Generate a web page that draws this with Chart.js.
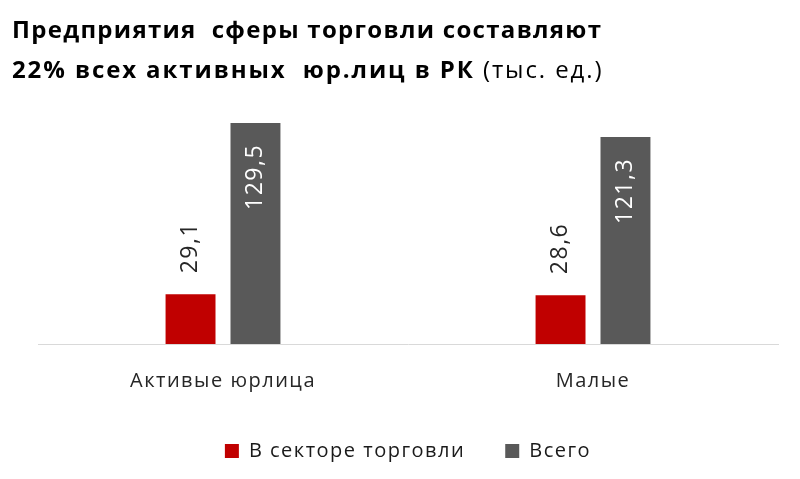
<!DOCTYPE html>
<html>
<head>
<meta charset="utf-8">
<script src="https://cdn.jsdelivr.net/npm/chart.js@4"></script>
<style>
  html, body { margin: 0; padding: 0; background: #fff; }
  #wrap { position: relative; width: 800px; height: 479px; }
  #title {
    position: absolute; left: 12px; top: 9px;
    font-family: "Open Sans", sans-serif; font-size: 24px; font-weight: 700;
    line-height: 40px; color: #000; letter-spacing: 1.3px; white-space: nowrap;
  }
  #title .l2 { letter-spacing: 1.9px; }
  #title span span { font-weight: 400; }
  canvas { position: absolute; left: 0; top: 0; }
</style>
</head>
<body>
<div id="wrap">
  <canvas id="chart" width="800" height="479"></canvas>
  <div id="title">Предприятия&nbsp; сферы торговли составляют<br><span class="l2">22% всех активных&nbsp; юр.лиц в РК <span>(тыс. ед.)</span></span></div>
</div>
<script>
const categories = ["Активые юрлица", "Малые"];
const tradeSector = [29.1, 28.6];
const total = [129.5, 121.3];
const seriesNames = ["В секторе торговли", "Всего"];

const FONT = '"Open Sans", sans-serif';
const SPACING = "1.5px";

// the reference text is set quite wide, so spread the letters a bit
const wideText = {
  id: "wideText",
  beforeLayout(chart) {
    chart.ctx.letterSpacing = SPACING;
  },
  beforeDraw(chart) {
    chart.ctx.letterSpacing = SPACING;
  },
};

// value labels, rotated, like Excel's vertical data labels
const valueLabels = {
  id: "valueLabels",
  afterDatasetsDraw(chart) {
    const ctx = chart.ctx;
    chart.data.datasets.forEach((ds, di) => {
      const meta = chart.getDatasetMeta(di);
      meta.data.forEach((bar, i) => {
        const text = ds.data[i].toFixed(1).replace(".", ",");
        ctx.save();
        ctx.letterSpacing = SPACING;
        ctx.font = "23px " + FONT;
        ctx.translate(bar.x, bar.y);
        ctx.rotate(-Math.PI / 2);
        ctx.textBaseline = "middle";
        if (di == 0) {
          ctx.fillStyle = "#262626";
          ctx.textAlign = "left";
          ctx.fillText(text, 21, 0);
        } else {
          ctx.fillStyle = "#ffffff";
          ctx.textAlign = "right";
          ctx.fillText(text, -21, 0);
        }
        ctx.restore();
      });
    });
  },
};

new Chart(document.getElementById("chart"), {
  type: "bar",
  data: {
    labels: categories,
    datasets: [
      { label: seriesNames[0], data: tradeSector, backgroundColor: "#c00000" },
      { label: seriesNames[1], data: total, backgroundColor: "#595959" },
    ],
  },
  options: {
    responsive: false,
    animation: false,
    categoryPercentage: 0.351,
    barPercentage: 0.769,
    layout: { padding: { top: 105, left: 38, right: 22, bottom: 8 } },
    plugins: {
      legend: {
        position: "bottom",
        labels: {
          font: { family: FONT, size: 20 },
          color: "#1a1a1a",
          boxWidth: 14,
          boxHeight: 14,
          padding: 40,
        },
      },
      tooltip: { enabled: false },
    },
    scales: {
      x: {
        grid: { display: false, drawTicks: false },
        border: { display: true, color: "#d9d9d9", width: 1 },
        ticks: { font: { family: FONT, size: 20 }, color: "#262626", padding: 25 },
        afterFit(scale) {
          scale.height = 57;
        },
      },
      y: {
        display: false,
        min: 0,
        max: 140,
      },
    },
  },
  plugins: [wideText, valueLabels],
});
</script>
</body>
</html>
